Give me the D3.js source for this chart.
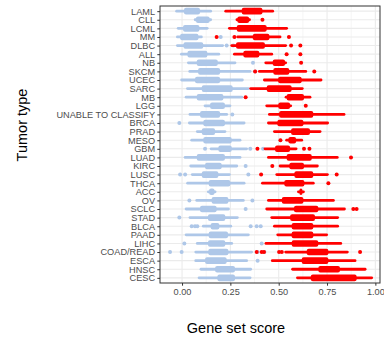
<!DOCTYPE html>
<html>
<head>
<meta charset="utf-8">
<script src="https://cdn.jsdelivr.net/npm/d3@7"></script>
<style>
  body { margin: 0; background: #fff; }
  svg { display: block; font-family: "Liberation Sans", Arial, sans-serif; }
</style>
</head>
<body>
<svg id="chart" width="384" height="338"></svg>
<script>
// Tumor types, top to bottom
const categories = ["LAML","CLL","LCML","MM","DLBC","ALL","NB","SKCM","UCEC","SARC","MB","LGG",
  "UNABLE TO CLASSIFY","BRCA","PRAD","MESO","GBM","LUAD","KIRC","LUSC","THCA","ACC","OV","SCLC",
  "STAD","BLCA","PAAD","LIHC","COAD/READ","ESCA","HNSC","CESC"];

// Low-score group (blue): whisker ends, quartiles, outliers
const blueLo  = [-0.028,0.068,-0.020,-0.024,-0.024,-0.003,0.033,0.040,-0.002,0.028,0.021,0.119,
  0.041,0.038,0.079,0.050,0.150,0.016,0.045,0.053,0.029,0.136,0.076,0.021,
  0.041,0.110,0.021,0.079,0.071,0.071,0.098,0.088];
const blueQ1  = [0.010,0.072,0.005,-0.010,0.007,0.028,0.076,0.083,0.067,0.102,0.076,0.145,
  0.093,0.110,0.102,0.110,0.188,0.076,0.119,0.102,0.138,0.140,0.153,0.093,
  0.134,0.148,0.138,0.134,0.136,0.119,0.171,0.183];
const blueQ3  = [0.093,0.143,0.090,0.085,0.110,0.131,0.185,0.197,0.197,0.262,0.214,0.222,
  0.197,0.222,0.171,0.257,0.257,0.222,0.205,0.188,0.250,0.168,0.240,0.179,
  0.224,0.193,0.238,0.224,0.240,0.231,0.274,0.274];
const blueHi  = [0.148,0.148,0.130,0.100,0.210,0.190,0.274,0.352,0.312,0.343,0.309,0.248,
  0.231,0.321,0.222,0.300,0.334,0.300,0.283,0.245,0.321,0.171,0.317,0.240,
  0.286,0.252,0.343,0.257,0.360,0.334,0.355,0.352];
const blueOut = [[],[],[],[0.200],[0.231,0.265,0.300],[],[0.367],[0.378],[],[0.512],[],[],
  [0.260],[-0.014],[],[],[0.119,0.353,0.419],[],[0.329],[-0.010,0.016,0.343],[],[],[0.038,0.364],[0.329],
  [-0.014],[0.050,0.067,0.079,0.355,0.386,0.407],[],[0.012,0.412],[-0.062,-0.002,0.391,0.426],[0.391],[],[]];

// High-score group (red)
const redLo  = [0.226,0.284,0.245,0.288,0.257,0.271,0.433,0.400,0.426,0.355,0.538,0.438,
  0.452,0.447,0.478,0.541,0.429,0.447,0.507,0.490,0.416,0.602,0.447,0.438,
  0.464,0.478,0.495,0.434,0.536,0.467,0.572,0.597];
const redQ1  = [0.309,0.286,0.283,0.366,0.279,0.317,0.469,0.472,0.497,0.438,0.541,0.498,
  0.502,0.493,0.564,0.550,0.481,0.541,0.555,0.581,0.529,0.607,0.516,0.579,
  0.559,0.567,0.567,0.567,0.645,0.619,0.705,0.666];
const redQ3  = [0.416,0.347,0.438,0.452,0.429,0.400,0.533,0.555,0.619,0.567,0.631,0.559,
  0.679,0.628,0.662,0.590,0.559,0.671,0.631,0.679,0.633,0.623,0.628,0.705,
  0.688,0.679,0.679,0.705,0.757,0.757,0.817,0.903];
const redHi  = [0.469,0.349,0.541,0.507,0.536,0.464,0.536,0.640,0.719,0.622,0.662,0.562,
  0.838,0.753,0.714,0.619,0.590,0.803,0.700,0.752,0.679,0.628,0.783,0.840,
  0.805,0.805,0.748,0.821,0.855,0.895,0.947,0.981];
const redOut = [[],[0.416],[],[0.179,0.271,0.553],[0.564,0.612],[0.541,0.612],[0.616],[0.378,0.684],[],[],[0.329],[0.640],
  [],[],[],[0.509],[0.390,0.631,0.659],[0.874],[0.467],[0.409,0.800],[0.757],[],[],[0.886,0.903],
  [],[],[],[],[0.386,0.412,0.424,0.502,0.516,0.921],[],[],[]];

const xTicks = [0, 0.25, 0.5, 0.75, 1];
const xMinor = [0.125, 0.375, 0.625, 0.875];

const panel = { left: 160, right: 380, top: 6, bottom: 283 };
const svg = d3.select("#chart");

const x = d3.scaleLinear().domain([-0.114, 1.024]).range([panel.left, panel.right]);
const y = d3.scalePoint().domain(categories).range([panel.top, panel.bottom]).padding(0.6);

// panel grid
const grid = svg.append("g");
grid.selectAll("line.minor").data(xMinor).join("line")
  .attr("x1", d => x(d)).attr("x2", d => x(d))
  .attr("y1", panel.top).attr("y2", panel.bottom)
  .attr("stroke", "#f0f0f0").attr("stroke-width", 0.6);
grid.selectAll("line.majx").data(xTicks).join("line")
  .attr("x1", d => x(d)).attr("x2", d => x(d))
  .attr("y1", panel.top).attr("y2", panel.bottom)
  .attr("stroke", "#ebebeb").attr("stroke-width", 1.1);
grid.selectAll("line.majy").data(categories).join("line")
  .attr("x1", panel.left).attr("x2", panel.right)
  .attr("y1", d => y(d)).attr("y2", d => y(d))
  .attr("stroke", "#ebebeb").attr("stroke-width", 1.1);

// box + whisker groups
const boxH = 6.6, whiskW = 2.8, ptR = 2;
function drawGroup(lo, q1, q3, hi, out, color) {
  const g = svg.append("g");
  const rows = categories.map((c, i) => ({ c, lo: lo[i], q1: q1[i], q3: q3[i], hi: hi[i], out: out[i] }));
  g.selectAll("line.whisk").data(rows).join("line")
    .attr("x1", d => x(d.lo)).attr("x2", d => x(d.hi))
    .attr("y1", d => y(d.c)).attr("y2", d => y(d.c))
    .attr("stroke", color).attr("stroke-width", whiskW).attr("stroke-linecap", "round");
  g.selectAll("rect.box").data(rows).join("rect")
    .attr("x", d => x(d.q1)).attr("width", d => Math.max(1, x(d.q3) - x(d.q1)))
    .attr("y", d => y(d.c) - boxH / 2).attr("height", boxH)
    .attr("rx", 2).attr("fill", color);
  const pts = rows.flatMap(d => d.out.map(v => ({ c: d.c, v })));
  g.selectAll("circle").data(pts).join("circle")
    .attr("cx", d => x(d.v)).attr("cy", d => y(d.c)).attr("r", ptR)
    .attr("fill", color);
}
drawGroup(blueLo, blueQ1, blueQ3, blueHi, blueOut, "#aec7e8");
drawGroup(redLo, redQ1, redQ3, redHi, redOut, "#ff0000");

// panel border
svg.append("rect")
  .attr("x", panel.left).attr("y", panel.top)
  .attr("width", panel.right - panel.left).attr("height", panel.bottom - panel.top)
  .attr("fill", "none").attr("stroke", "#333").attr("stroke-width", 1);

// axes
const yAxis = svg.append("g").attr("transform", `translate(${panel.left},0)`)
  .call(d3.axisLeft(y).tickSize(2.7).tickPadding(2.2));
const xAxis = svg.append("g").attr("transform", `translate(0,${panel.bottom})`)
  .call(d3.axisBottom(x).tickValues(xTicks).tickFormat(d3.format(".2f")).tickSize(2.7).tickPadding(2.4));
[yAxis, xAxis].forEach(a => {
  a.select(".domain").remove();
  a.selectAll(".tick line").attr("stroke", "#333");
  a.selectAll(".tick text").attr("fill", "#4d4d4d")
    .style("font-size", "9.2px").style("font-family", "'Liberation Sans', Arial, sans-serif");
});

// titles
svg.append("text").attr("x", 236).attr("y", 333)
  .attr("text-anchor", "middle").attr("fill", "#000")
  .style("font-size", "14.5px").text("Gene set score");
svg.append("text").attr("transform", "translate(27,125) rotate(-90)")
  .attr("text-anchor", "middle").attr("fill", "#000")
  .style("font-size", "14.5px").text("Tumor type");
</script>
</body>
</html>
